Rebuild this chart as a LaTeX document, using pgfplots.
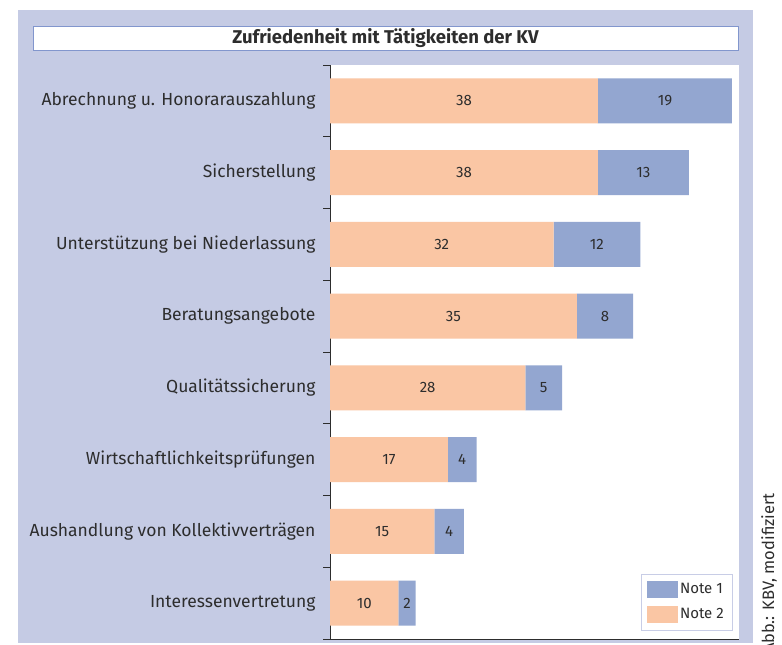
\documentclass[border=0pt]{standalone}
\usepackage{pgfplots}
\pgfplotsset{compat=1.18}
\usepackage{fontspec}
\setmainfont{Fira Sans}
\definecolor{panel}{RGB}{197,203,228}
\definecolor{noteone}{RGB}{147,166,208}
\definecolor{notetwo}{RGB}{250,198,164}
\definecolor{txt}{RGB}{45,45,45}
\definecolor{tborder}{RGB}{130,150,205}
\definecolor{legborder}{RGB}{200,205,230}

\begin{document}
\begin{tikzpicture}[x=1pt,y=1pt]
\useasboundingbox (0pt,0pt) rectangle (782pt,645pt);
\fill[white] (0pt,0pt) rectangle (782pt,645pt);
\fill[panel] (18pt,2pt) rectangle (753pt,635pt);
\filldraw[fill=white, draw=tborder, line width=0.8pt] (33pt,595pt) rectangle (738pt,619pt);
\node[font=\bfseries\fontsize{18.5}{20}\selectfont, text=txt] at (385.5pt,607pt) {Zufriedenheit mit Tätigkeiten der KV};
\node[rotate=90, anchor=south east, inner sep=0pt, font=\fontsize{16.5}{18}\selectfont, text=txt] at (777pt,152pt) {Abb.: KBV, modifiziert};
\begin{axis}[
  at={(330pt,6pt)}, anchor=south west,
  width=409pt, height=574pt, scale only axis,
  xmin=0, xmax=58, ymin=-0.5, ymax=7.5,
  xbar stacked, bar width=45pt,
  axis background/.style={fill=white},
  axis x line*=bottom, axis y line*=left,
  axis line style={txt, line width=0.8pt},
  xtick=\empty,
  ytick={0,...,7},
  yticklabels={Interessenvertretung, Aushandlung von Kollektivverträgen, Wirtschaftlichkeitsprüfungen, Qualitätssicherung, Beratungsangebote, Unterstützung bei Niederlassung, Sicherstellung, Abrechnung u. Honorarauszahlung},
  minor ytick={-0.5,0.5,...,7.5},
  major tick length=0pt, minor tick length=7pt, tick align=outside,
  minor tick style={txt, line width=0.8pt},
  yticklabel style={font=\fontsize{17.5}{19}\selectfont, text=txt, xshift=-11pt},
  /pgf/number format/assume math mode=true,
  point meta=explicit,
  nodes near coords,
  every node near coord/.append style={anchor=center, font=\fontsize{15}{17}\selectfont, text=txt},
  reverse legend,
  legend style={at={(rel axis cs:1,0)}, anchor=south east, xshift=-7pt, yshift=9pt, draw=legborder, font=\fontsize{15}{17}\selectfont, text=txt, inner xsep=6pt, inner ysep=7pt, row sep=8pt, cells={anchor=west}},
  legend image code/.code={\fill[#1] (0pt,-8.5pt) rectangle (31pt,8.5pt);},
]
\addplot[fill=notetwo, draw=none] coordinates {
 (9.7,0) [10] (14.8,1) [15] (16.7,2) [17] (27.7,3) [28] (35,4) [35] (31.7,5) [32] (38,6) [38] (38,7) [38]};
\addplot[fill=noteone, draw=none] coordinates {
 (2.45,0) [2] (4.2,1) [4] (4.1,2) [4] (5.2,3) [5] (8,4) [8] (12.3,5) [12] (12.9,6) [13] (19,7) [19]};
\legend{Note 2, Note 1}
\end{axis}
\end{tikzpicture}
\end{document}
